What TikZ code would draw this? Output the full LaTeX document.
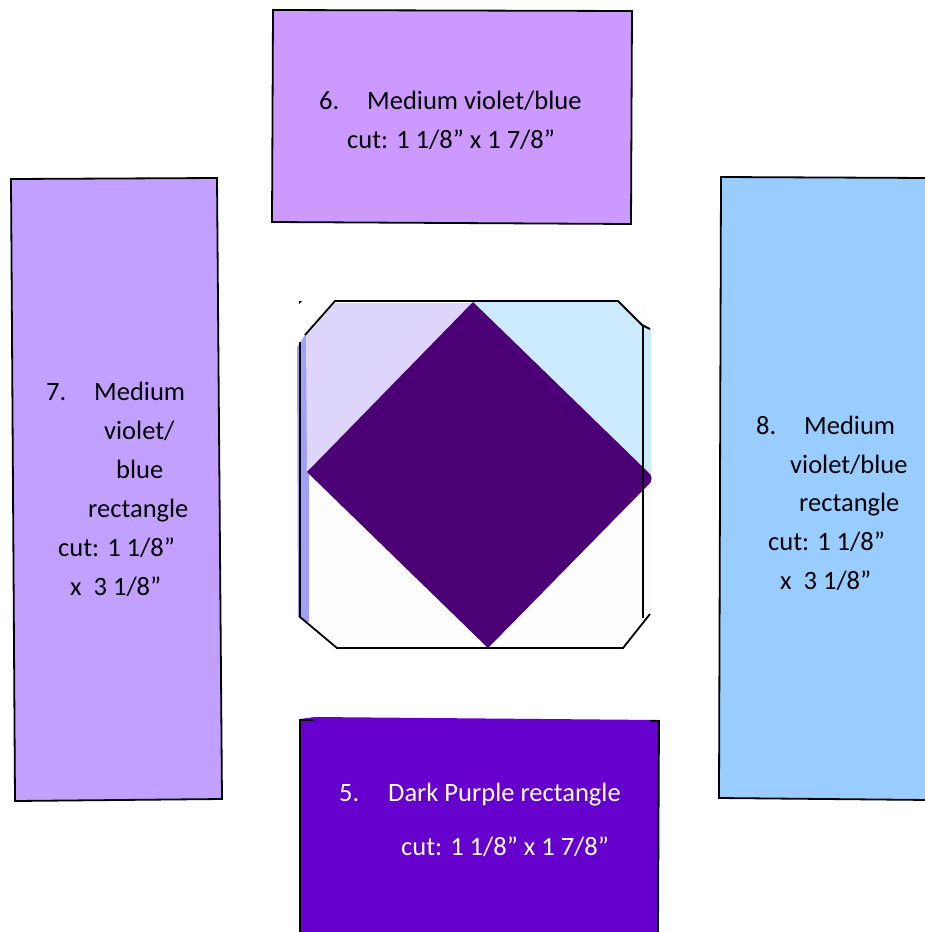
\documentclass[tikz,border=0pt]{standalone}
\usepackage{fontspec}
\setmainfont{Carlito}
\usetikzlibrary{positioning}
\usetikzlibrary{calc}

\definecolor{violetsix}{HTML}{CC99FF}
\definecolor{violetseven}{HTML}{C2A0FF}
\definecolor{bluefill}{HTML}{99CCFF}
\definecolor{darkpurple}{HTML}{6600CC}
\definecolor{lightviolet}{HTML}{DDD6FA}
\definecolor{lightblue}{HTML}{CCEBFE}
\definecolor{offwhite}{HTML}{FDFDFD}
\definecolor{stripblue}{HTML}{A0A0F5}
\definecolor{diamondpurple}{HTML}{4B0075}

\tikzset{
	cutlabel/.style={anchor=base west, inner sep=0pt, yshift=-1pt, font=\fontsize{26.5}{26.5}\selectfont},
	outline/.style={draw=black, line width=1.8pt}
}

\begin{document}
\begin{tikzpicture}[x=1pt,y=-1pt]
\useasboundingbox (0,0) rectangle (924,932);

% rectangle 6
\draw[outline, fill=violetsix] (273,10) -- (632,11) -- (631,224) -- (272,222) -- cycle;
\node[cutlabel] (six) at (319,108) {6.};
\node[cutlabel] (sixa) at (367,108) {Medium violet/blue};
\node[cutlabel] (sixb) at (347,147) {cut: 1 1/8” x 1 7/8”};

% rectangle 7
\draw[outline, fill=violetseven] (11,179) -- (217,178) -- (222,799) -- (15,801) -- cycle;
\node[cutlabel] (seven) at (46,399) {7.};
\node[cutlabel] (sevena) at (94,399) {Medium};
\node[cutlabel] (sevenb) at (104,438) {violet/};
\node[cutlabel] (sevenc) at (116,477) {blue};
\node[cutlabel] (sevend) at (88,516) {rectangle};
\node[cutlabel] (sevene) at (58,555) {cut: 1 1/8”};
\node[cutlabel] (sevenf) at (70,594) {x\ \ 3 1/8”};

% rectangle 8
\draw[outline, fill=bluefill] (930,178) -- (721,177) -- (719,798) -- (930,800);
\node[cutlabel] (eight) at (756,433) {8.};
\node[cutlabel] (eighta) at (804,433) {Medium};
\node[cutlabel] (eightb) at (790,472) {violet/blue};
\node[cutlabel] (eightc) at (799,510) {rectangle};
\node[cutlabel] (eightd) at (768,549) {cut: 1 1/8”};
\node[cutlabel] (eighte) at (780,588) {x\ \ 3 1/8”};

% rectangle 5
\fill[darkpurple] (300,719) -- (315,717) -- (658,720) -- (658,932) -- (300,932) -- cycle;
\draw[outline] (314,720) -- (300,720) -- (300,932);
\draw[outline] (650,721) -- (659,721) -- (658,932);
\node[cutlabel, text=white] (five) at (339,800) {5.};
\node[cutlabel, text=white] (fivea) at (388,800) {Dark Purple rectangle};
\node[cutlabel, text=white] (fiveb) at (401,854) {cut: 1 1/8” x 1 7/8”};

% finished block
\fill[offwhite] (306,335) -- (335,303) -- (645,303) -- (651,329) -- (651,614) -- (623,648) -- (337,648) -- (306,622) -- cycle;
\fill[stripblue] (297,347) -- (305,335) -- (309,336) -- (309,622) -- (306,622) -- (298,617) -- cycle;
\fill[lightviolet] (306,335) -- (335,303) -- (473,303) -- (307,472) -- cycle;
\fill[lightblue] (473,302) -- (618,301) -- (642,323) -- (651,329) -- (651,478) -- cycle;
\fill[diamondpurple] (473,302) -- (650,474) .. controls (652,477) and (652,480) .. (650,483) -- (488,648) -- (307,472) -- cycle;

% outline of the block
\draw[outline] (300,342) -- (300,617) -- (306,622) -- (337,648) -- (623,648) -- (650,614);
\draw[outline] (305,335) -- (335,301) -- (618,301) -- (642,325) -- (650,329);
\draw[outline] (643,325) -- (643,618);
\fill[black] (299,301) -- (302,301) -- (299,304) -- cycle;

\end{tikzpicture}
\end{document}
